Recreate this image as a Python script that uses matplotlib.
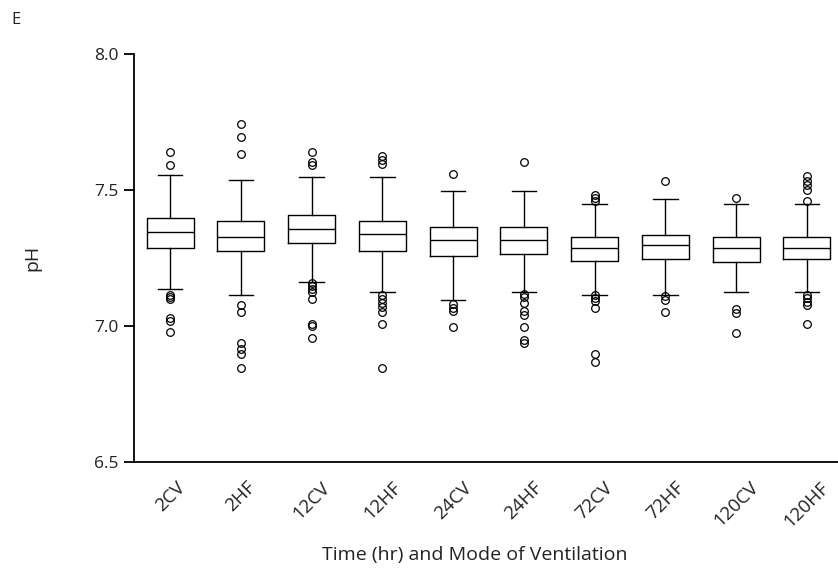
import matplotlib
matplotlib.use("Agg")
import matplotlib.pyplot as plt

plt.rcParams['font.family'] = ['Open Sans', 'DejaVu Sans']

categories = ["2CV", "2HF", "12CV", "12HF", "24CV", "24HF", "72CV", "72HF", "120CV", "120HF"]
q1 =      [7.287, 7.275, 7.306, 7.275, 7.257, 7.264, 7.239, 7.245, 7.234, 7.245]
median =  [7.345, 7.325, 7.357, 7.336, 7.315, 7.315, 7.286, 7.296, 7.286, 7.286]
q3 =      [7.397, 7.387, 7.406, 7.387, 7.365, 7.365, 7.325, 7.335, 7.325, 7.325]
whis_lo = [7.135, 7.113, 7.163, 7.124, 7.094, 7.124, 7.113, 7.113, 7.124, 7.124]
whis_hi = [7.556, 7.537, 7.548, 7.548, 7.497, 7.497, 7.447, 7.467, 7.447, 7.447]
outliers = [
    [7.64, 7.59, 7.115, 7.107, 7.098, 7.03, 7.018, 6.976],
    [7.744, 7.693, 7.631, 7.078, 7.049, 6.935, 6.913, 6.895, 6.845],
    [7.64, 7.604, 7.592, 7.156, 7.147, 7.137, 7.125, 7.097, 7.007, 6.998, 6.955],
    [7.623, 7.61, 7.596, 7.112, 7.097, 7.084, 7.07, 7.049, 7.006, 6.845],
    [7.559, 7.08, 7.067, 7.053, 6.996],
    [7.602, 7.116, 7.107, 7.084, 7.053, 7.04, 6.996, 6.949, 6.935],
    [7.481, 7.471, 7.46, 7.112, 7.101, 7.092, 7.065, 6.898, 6.867],
    [7.532, 7.109, 7.094, 7.049],
    [7.469, 7.063, 7.048, 6.975],
    [7.553, 7.534, 7.518, 7.5, 7.46, 7.112, 7.101, 7.088, 7.076, 7.005],
]
y_ticks = [6.5, 7.0, 7.5, 8.0]

stats = []
for i, c in enumerate(categories):
    stats.append(dict(label=c, q1=q1[i], med=median[i], q3=q3[i],
                      whislo=whis_lo[i], whishi=whis_hi[i], fliers=outliers[i]))

fig = plt.figure(figsize=(8.38, 5.71), dpi=100)
ax = fig.add_axes([0.160, 0.1914, 0.84, 0.714])

lw = 1.0
ax.bxp(stats, positions=range(1, len(categories) + 1), widths=0.664,
       capwidths=0.344, patch_artist=False,
       boxprops=dict(color='black', linewidth=lw),
       medianprops=dict(color='black', linewidth=lw),
       whiskerprops=dict(color='black', linewidth=lw),
       capprops=dict(color='black', linewidth=lw),
       flierprops=dict(marker='o', markerfacecolor='none', markeredgecolor='black',
                       markersize=5.5, markeredgewidth=0.9, linestyle='none'))

ax.set_xlim(0.49, 10.44)
ax.set_ylim(6.5, 8.0)
ax.set_yticks(y_ticks)
ax.set_yticklabels([f"{v:.1f}" for v in y_ticks], fontsize=12.5, color='#222222')
ax.set_xticks(range(1, len(categories) + 1))
ax.set_xticklabels(categories, rotation=45, ha='center', va='top',
                   fontsize=13.5, color='#222222')
ax.tick_params(axis='x', length=0, pad=12)
ax.tick_params(axis='y', length=7, width=1.3, pad=4)

for s in ['top', 'right']:
    ax.spines[s].set_visible(False)
for s in ['left', 'bottom']:
    ax.spines[s].set_linewidth(1.3)

ax.set_ylabel("pH", fontsize=14, labelpad=38, color='#222222')
fig.text(0.566, 0.028, "Time (hr) and Mode of Ventilation", ha='center', va='center',
         fontsize=14, color='#222222')
fig.text(0.014, 0.965, "E", ha='left', va='center', fontsize=12, color='#222222')

fig.savefig("out.png", dpi=100)
